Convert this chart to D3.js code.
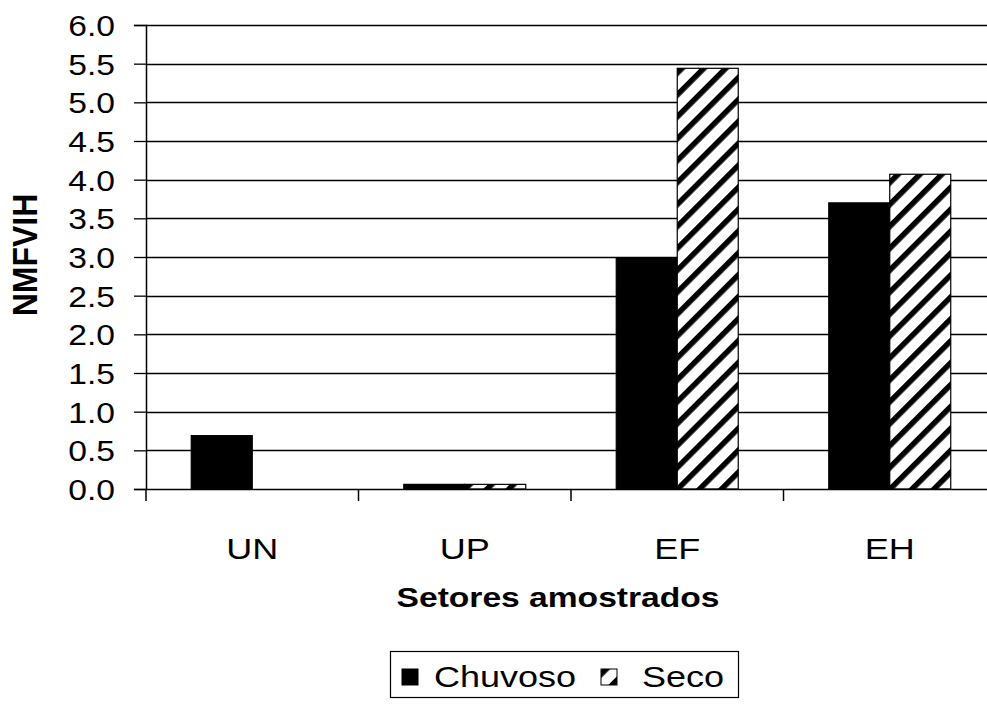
<!DOCTYPE html>
<html>
<head>
<meta charset="utf-8">
<script src="https://cdn.jsdelivr.net/npm/d3@7"></script>
<style>
  html, body { margin: 0; padding: 0; background: #fff; }
  svg { display: block; }
  text { font-family: "Liberation Sans", Arial, sans-serif; fill: #000; }
</style>
</head>
<body>
<svg id="chart" width="987" height="704"></svg>
<script>
// Sampled sectors and the two seasons
const categories = ["UN", "UP", "EF", "EH"];
const seriesNames = ["Chuvoso", "Seco"];
const chuvoso = [0.69, 0.06, 2.99, 3.70];
const seco = [0.0, 0.06, 5.44, 4.07];
const yTicks = [0, 0.5, 1, 1.5, 2, 2.5, 3, 3.5, 4, 4.5, 5, 5.5, 6];

const svg = d3.select("#chart");
const W = 987, H = 704;
const plotLeft = 146, plotRight = 996, plotTop = 25, plotBottom = 489;
const sx = 1.2;       // horizontal stretch of the lettering
const fs = 28;        // base font size

// hatched fill for the dry season
const defs = svg.append("defs");
const pat = defs.append("pattern")
  .attr("id", "hatch")
  .attr("patternUnits", "userSpaceOnUse")
  .attr("width", 15.5).attr("height", 15.5)
  .attr("patternTransform", "rotate(45)");
pat.append("rect").attr("width", 15.5).attr("height", 15.5).attr("fill", "#fff");
pat.append("rect").attr("width", 5.5).attr("height", 15.5).attr("fill", "#000");

const x = d3.scaleBand().domain(categories).range([plotLeft, plotRight]).padding(0);
const xs = d3.scaleBand().domain(seriesNames).range([0, x.bandwidth()])
  .paddingInner(0).paddingOuter(0.742);
const y = d3.scaleLinear().domain([0, 6]).range([plotBottom, plotTop]);

// horizontal gridlines
svg.append("g")
  .selectAll("line")
  .data(yTicks.filter(d => d > 0))
  .join("line")
  .attr("x1", plotLeft).attr("x2", W)
  .attr("y1", d => Math.round(y(d)) + 0.5).attr("y2", d => Math.round(y(d)) + 0.5)
  .attr("stroke", "#000").attr("stroke-width", 1.3);

// bars
const rows = categories.map((c, i) => ({ cat: c, values: [
  { key: "Chuvoso", v: chuvoso[i] }, { key: "Seco", v: seco[i] }] }));

const groups = svg.append("g").selectAll("g").data(rows).join("g")
  .attr("transform", d => `translate(${x(d.cat)},0)`);
groups.selectAll("rect")
  .data(d => d.values.filter(e => e.v > 0))
  .join("rect")
  .attr("x", d => xs(d.key))
  .attr("width", xs.bandwidth())
  .attr("y", d => y(d.v))
  .attr("height", d => y(0) - y(d.v))
  .attr("fill", d => d.key === "Chuvoso" ? "#000" : "url(#hatch)")
  .attr("stroke", "#000").attr("stroke-width", 1.2);

// axes
const yAxis = d3.axisLeft(y).tickValues(yTicks).tickSize(12).tickFormat(d3.format(".1f"));
const gy = svg.append("g").attr("transform", `translate(${plotLeft},0)`).call(yAxis);
gy.select(".domain").attr("stroke", "#000").attr("stroke-width", 1.5);
gy.selectAll(".tick line").attr("stroke", "#000").attr("stroke-width", 1.3);
gy.selectAll(".tick text").remove();
gy.selectAll(".tick").append("text")
  .attr("transform", `translate(-31,0) scale(1.16,1)`)
  .attr("text-anchor", "end").attr("dy", "0.36em")
  .style("font-size", "29px")
  .text(d => d3.format(".1f")(d));

const xAxis = d3.axisBottom(x).tickSize(0).tickFormat("");
const gx = svg.append("g").attr("transform", `translate(0,${plotBottom})`).call(xAxis);
gx.select(".domain").attr("stroke", "#000").attr("stroke-width", 1.5);

// category separators below the axis
svg.append("g").selectAll("line")
  .data(categories.map(c => x(c)).concat([plotRight]))
  .join("line")
  .attr("x1", d => d).attr("x2", d => d)
  .attr("y1", plotBottom).attr("y2", plotBottom + 12)
  .attr("stroke", "#000").attr("stroke-width", 1.5);

// category labels
svg.append("g").selectAll("text").data(categories).join("text")
  .attr("transform", d => `translate(${x(d) + x.bandwidth() / 2},559) scale(${sx},1)`)
  .attr("text-anchor", "middle")
  .style("font-size", "30px")
  .text(d => d);

// axis titles
svg.append("text")
  .attr("transform", `translate(558,607) scale(${sx},1)`)
  .attr("text-anchor", "middle")
  .style("font-size", fs + "px").style("font-weight", "bold")
  .text("Setores amostrados");

svg.append("text")
  .attr("transform", `translate(37,255) scale(1.08,1) rotate(-90)`)
  .attr("text-anchor", "middle")
  .style("font-size", "32px").style("font-weight", "bold")
  .text("NMFVIH");

// legend
const lg = svg.append("g");
lg.append("rect").attr("x", 390.5).attr("y", 651.5).attr("width", 348).attr("height", 46)
  .attr("fill", "#fff").attr("stroke", "#000").attr("stroke-width", 1.2);
const legendItems = [
  { name: seriesNames[0], sx0: 402, tx: 434 },
  { name: seriesNames[1], sx0: 601, tx: 642 }
];
lg.selectAll("rect.sym").data(legendItems).join("rect")
  .attr("class", "sym")
  .attr("x", d => d.sx0).attr("y", 669).attr("width", 16).attr("height", 16)
  .attr("fill", d => d.name === "Chuvoso" ? "#000" : "url(#hatch)")
  .attr("stroke", "#000").attr("stroke-width", 1);
lg.selectAll("text").data(legendItems).join("text")
  .attr("transform", d => `translate(${d.tx},687) scale(${sx},1)`)
  .style("font-size", "30px")
  .text(d => d.name);
</script>
</body>
</html>
